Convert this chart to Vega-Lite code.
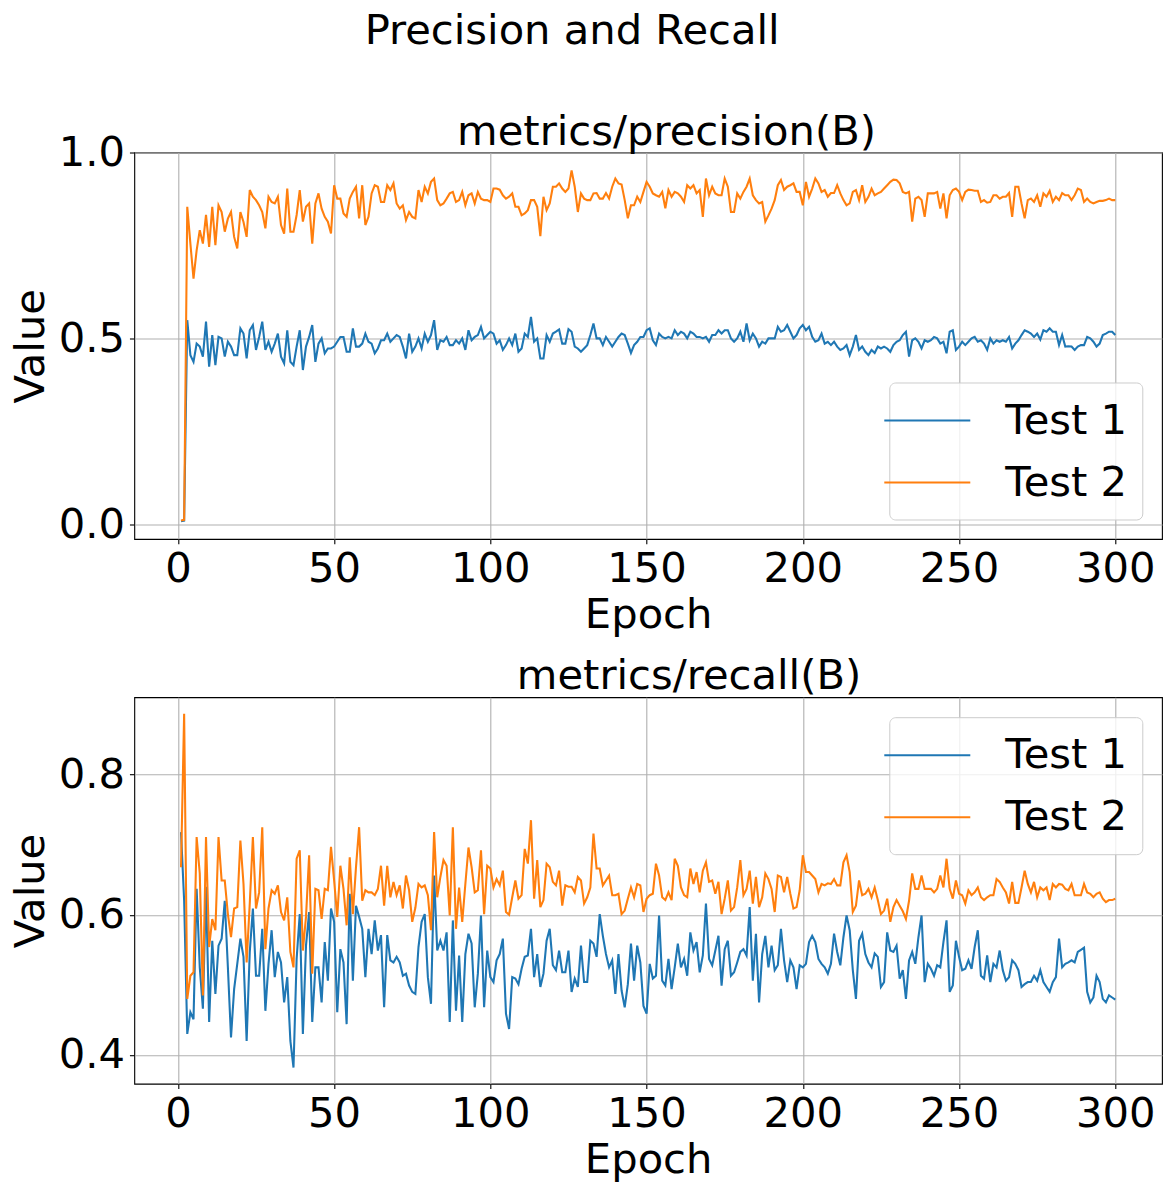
{
"$schema":"https://vega.github.io/schema/vega-lite/v6.json",
"autosize":{"type":"none"},
"padding":{"left":134.3,"top":152.5,"right":1034.7,"bottom":1029.5},
"background":"white",
"bounds":"flush",
"spacing":157.7,
"title":{"text":"Precision and Recall","offset":58,"dx":-76,"frame":"group","anchor":"middle"},
"data":{"values":[
{"e":1,"p1":0.008,"p2":0.010,"r1":0.718,"r2":0.668},
{"e":2,"p1":0.010,"p2":0.012,"r1":0.620,"r2":0.887},
{"e":3,"p1":0.549,"p2":0.854,"r1":0.430,"r2":0.480},
{"e":4,"p1":0.455,"p2":0.755,"r1":0.461,"r2":0.513},
{"e":5,"p1":0.437,"p2":0.661,"r1":0.451,"r2":0.518},
{"e":6,"p1":0.486,"p2":0.737,"r1":0.637,"r2":0.711},
{"e":7,"p1":0.478,"p2":0.791,"r1":0.525,"r2":0.659},
{"e":8,"p1":0.451,"p2":0.755,"r1":0.466,"r2":0.485},
{"e":9,"p1":0.545,"p2":0.832,"r1":0.640,"r2":0.711},
{"e":10,"p1":0.424,"p2":0.746,"r1":0.447,"r2":0.554},
{"e":11,"p1":0.509,"p2":0.854,"r1":0.563,"r2":0.594},
{"e":12,"p1":0.428,"p2":0.751,"r1":0.487,"r2":0.578},
{"e":13,"p1":0.504,"p2":0.858,"r1":0.556,"r2":0.711},
{"e":14,"p1":0.500,"p2":0.840,"r1":0.566,"r2":0.649},
{"e":15,"p1":0.451,"p2":0.787,"r1":0.620,"r2":0.649},
{"e":16,"p1":0.491,"p2":0.822,"r1":0.525,"r2":0.601},
{"e":17,"p1":0.478,"p2":0.840,"r1":0.425,"r2":0.568},
{"e":18,"p1":0.455,"p2":0.773,"r1":0.494,"r2":0.609},
{"e":19,"p1":0.455,"p2":0.742,"r1":0.530,"r2":0.611},
{"e":20,"p1":0.527,"p2":0.840,"r1":0.566,"r2":0.706},
{"e":21,"p1":0.513,"p2":0.813,"r1":0.540,"r2":0.644},
{"e":22,"p1":0.446,"p2":0.773,"r1":0.420,"r2":0.532},
{"e":23,"p1":0.522,"p2":0.899,"r1":0.547,"r2":0.616},
{"e":24,"p1":0.536,"p2":0.881,"r1":0.609,"r2":0.711},
{"e":25,"p1":0.469,"p2":0.872,"r1":0.513,"r2":0.609},
{"e":26,"p1":0.504,"p2":0.858,"r1":0.513,"r2":0.632},
{"e":27,"p1":0.545,"p2":0.840,"r1":0.580,"r2":0.725},
{"e":28,"p1":0.469,"p2":0.796,"r1":0.463,"r2":0.551},
{"e":29,"p1":0.491,"p2":0.881,"r1":0.530,"r2":0.609},
{"e":30,"p1":0.464,"p2":0.867,"r1":0.578,"r2":0.635},
{"e":31,"p1":0.486,"p2":0.863,"r1":0.511,"r2":0.630},
{"e":32,"p1":0.513,"p2":0.881,"r1":0.547,"r2":0.642},
{"e":33,"p1":0.451,"p2":0.805,"r1":0.532,"r2":0.604},
{"e":34,"p1":0.433,"p2":0.782,"r1":0.475,"r2":0.592},
{"e":35,"p1":0.522,"p2":0.903,"r1":0.511,"r2":0.625},
{"e":36,"p1":0.437,"p2":0.787,"r1":0.420,"r2":0.547},
{"e":37,"p1":0.428,"p2":0.787,"r1":0.382,"r2":0.525},
{"e":38,"p1":0.478,"p2":0.832,"r1":0.537,"r2":0.680},
{"e":39,"p1":0.522,"p2":0.899,"r1":0.601,"r2":0.692},
{"e":40,"p1":0.415,"p2":0.814,"r1":0.430,"r2":0.549},
{"e":41,"p1":0.478,"p2":0.854,"r1":0.556,"r2":0.597},
{"e":42,"p1":0.504,"p2":0.863,"r1":0.604,"r2":0.685},
{"e":43,"p1":0.536,"p2":0.755,"r1":0.447,"r2":0.516},
{"e":44,"p1":0.437,"p2":0.863,"r1":0.525,"r2":0.637},
{"e":45,"p1":0.486,"p2":0.890,"r1":0.525,"r2":0.635},
{"e":46,"p1":0.500,"p2":0.849,"r1":0.475,"r2":0.594},
{"e":47,"p1":0.460,"p2":0.827,"r1":0.561,"r2":0.637},
{"e":48,"p1":0.473,"p2":0.814,"r1":0.506,"r2":0.635},
{"e":49,"p1":0.473,"p2":0.782,"r1":0.609,"r2":0.697},
{"e":50,"p1":0.478,"p2":0.912,"r1":0.590,"r2":0.649},
{"e":51,"p1":0.491,"p2":0.876,"r1":0.461,"r2":0.597},
{"e":52,"p1":0.504,"p2":0.876,"r1":0.551,"r2":0.670},
{"e":53,"p1":0.504,"p2":0.836,"r1":0.532,"r2":0.637},
{"e":54,"p1":0.464,"p2":0.827,"r1":0.444,"r2":0.585},
{"e":55,"p1":0.464,"p2":0.876,"r1":0.630,"r2":0.682},
{"e":56,"p1":0.527,"p2":0.894,"r1":0.506,"r2":0.601},
{"e":57,"p1":0.478,"p2":0.908,"r1":0.613,"r2":0.668},
{"e":58,"p1":0.478,"p2":0.823,"r1":0.597,"r2":0.725},
{"e":59,"p1":0.486,"p2":0.912,"r1":0.580,"r2":0.620},
{"e":60,"p1":0.513,"p2":0.805,"r1":0.511,"r2":0.635},
{"e":61,"p1":0.491,"p2":0.827,"r1":0.580,"r2":0.632},
{"e":62,"p1":0.486,"p2":0.890,"r1":0.544,"r2":0.632},
{"e":63,"p1":0.460,"p2":0.912,"r1":0.592,"r2":0.628},
{"e":64,"p1":0.473,"p2":0.908,"r1":0.549,"r2":0.637},
{"e":65,"p1":0.495,"p2":0.867,"r1":0.571,"r2":0.670},
{"e":66,"p1":0.495,"p2":0.867,"r1":0.468,"r2":0.613},
{"e":67,"p1":0.513,"p2":0.912,"r1":0.571,"r2":0.670},
{"e":68,"p1":0.491,"p2":0.899,"r1":0.535,"r2":0.625},
{"e":69,"p1":0.500,"p2":0.917,"r1":0.532,"r2":0.647},
{"e":70,"p1":0.509,"p2":0.863,"r1":0.540,"r2":0.628},
{"e":71,"p1":0.504,"p2":0.849,"r1":0.532,"r2":0.642},
{"e":72,"p1":0.478,"p2":0.858,"r1":0.513,"r2":0.609},
{"e":73,"p1":0.446,"p2":0.818,"r1":0.516,"r2":0.656},
{"e":74,"p1":0.513,"p2":0.840,"r1":0.499,"r2":0.635},
{"e":75,"p1":0.464,"p2":0.827,"r1":0.490,"r2":0.590},
{"e":76,"p1":0.478,"p2":0.823,"r1":0.487,"r2":0.610},
{"e":77,"p1":0.500,"p2":0.899,"r1":0.554,"r2":0.644},
{"e":78,"p1":0.473,"p2":0.867,"r1":0.590,"r2":0.639},
{"e":79,"p1":0.513,"p2":0.908,"r1":0.601,"r2":0.642},
{"e":80,"p1":0.491,"p2":0.890,"r1":0.511,"r2":0.628},
{"e":81,"p1":0.509,"p2":0.921,"r1":0.473,"r2":0.578},
{"e":82,"p1":0.549,"p2":0.930,"r1":0.656,"r2":0.718},
{"e":83,"p1":0.469,"p2":0.872,"r1":0.549,"r2":0.625},
{"e":84,"p1":0.495,"p2":0.858,"r1":0.563,"r2":0.654},
{"e":85,"p1":0.491,"p2":0.863,"r1":0.549,"r2":0.678},
{"e":86,"p1":0.504,"p2":0.876,"r1":0.575,"r2":0.670},
{"e":87,"p1":0.482,"p2":0.890,"r1":0.447,"r2":0.599},
{"e":88,"p1":0.482,"p2":0.894,"r1":0.592,"r2":0.725},
{"e":89,"p1":0.495,"p2":0.867,"r1":0.463,"r2":0.580},
{"e":90,"p1":0.486,"p2":0.872,"r1":0.542,"r2":0.639},
{"e":91,"p1":0.500,"p2":0.894,"r1":0.447,"r2":0.590},
{"e":92,"p1":0.469,"p2":0.858,"r1":0.544,"r2":0.644},
{"e":93,"p1":0.522,"p2":0.885,"r1":0.573,"r2":0.696},
{"e":94,"p1":0.495,"p2":0.890,"r1":0.559,"r2":0.668},
{"e":95,"p1":0.504,"p2":0.863,"r1":0.468,"r2":0.632},
{"e":96,"p1":0.509,"p2":0.894,"r1":0.516,"r2":0.635},
{"e":97,"p1":0.531,"p2":0.876,"r1":0.599,"r2":0.692},
{"e":98,"p1":0.500,"p2":0.872,"r1":0.468,"r2":0.601},
{"e":99,"p1":0.509,"p2":0.872,"r1":0.549,"r2":0.670},
{"e":100,"p1":0.518,"p2":0.867,"r1":0.511,"r2":0.666},
{"e":101,"p1":0.513,"p2":0.903,"r1":0.504,"r2":0.639},
{"e":102,"p1":0.486,"p2":0.903,"r1":0.535,"r2":0.651},
{"e":103,"p1":0.495,"p2":0.900,"r1":0.544,"r2":0.642},
{"e":104,"p1":0.469,"p2":0.885,"r1":0.566,"r2":0.663},
{"e":105,"p1":0.482,"p2":0.876,"r1":0.459,"r2":0.604},
{"e":106,"p1":0.500,"p2":0.881,"r1":0.437,"r2":0.600},
{"e":107,"p1":0.482,"p2":0.890,"r1":0.511,"r2":0.625},
{"e":108,"p1":0.513,"p2":0.854,"r1":0.509,"r2":0.649},
{"e":109,"p1":0.464,"p2":0.854,"r1":0.501,"r2":0.623},
{"e":110,"p1":0.473,"p2":0.831,"r1":0.523,"r2":0.628},
{"e":111,"p1":0.513,"p2":0.836,"r1":0.540,"r2":0.694},
{"e":112,"p1":0.504,"p2":0.845,"r1":0.542,"r2":0.673},
{"e":113,"p1":0.558,"p2":0.872,"r1":0.580,"r2":0.735},
{"e":114,"p1":0.491,"p2":0.872,"r1":0.511,"r2":0.623},
{"e":115,"p1":0.500,"p2":0.854,"r1":0.544,"r2":0.678},
{"e":116,"p1":0.446,"p2":0.775,"r1":0.497,"r2":0.611},
{"e":117,"p1":0.446,"p2":0.881,"r1":0.516,"r2":0.621},
{"e":118,"p1":0.509,"p2":0.845,"r1":0.563,"r2":0.673},
{"e":119,"p1":0.491,"p2":0.863,"r1":0.580,"r2":0.668},
{"e":120,"p1":0.513,"p2":0.908,"r1":0.528,"r2":0.647},
{"e":121,"p1":0.518,"p2":0.908,"r1":0.521,"r2":0.642},
{"e":122,"p1":0.524,"p2":0.917,"r1":0.549,"r2":0.663},
{"e":123,"p1":0.486,"p2":0.903,"r1":0.518,"r2":0.613},
{"e":124,"p1":0.486,"p2":0.894,"r1":0.518,"r2":0.642},
{"e":125,"p1":0.525,"p2":0.903,"r1":0.549,"r2":0.640},
{"e":126,"p1":0.518,"p2":0.952,"r1":0.490,"r2":0.640},
{"e":127,"p1":0.478,"p2":0.908,"r1":0.509,"r2":0.632},
{"e":128,"p1":0.473,"p2":0.840,"r1":0.497,"r2":0.654},
{"e":129,"p1":0.464,"p2":0.890,"r1":0.556,"r2":0.649},
{"e":130,"p1":0.473,"p2":0.876,"r1":0.504,"r2":0.616},
{"e":131,"p1":0.482,"p2":0.872,"r1":0.504,"r2":0.625},
{"e":132,"p1":0.509,"p2":0.872,"r1":0.563,"r2":0.639},
{"e":133,"p1":0.540,"p2":0.890,"r1":0.559,"r2":0.716},
{"e":134,"p1":0.500,"p2":0.891,"r1":0.540,"r2":0.666},
{"e":135,"p1":0.500,"p2":0.876,"r1":0.601,"r2":0.666},
{"e":136,"p1":0.482,"p2":0.876,"r1":0.570,"r2":0.642},
{"e":137,"p1":0.504,"p2":0.891,"r1":0.544,"r2":0.649},
{"e":138,"p1":0.491,"p2":0.876,"r1":0.525,"r2":0.656},
{"e":139,"p1":0.478,"p2":0.908,"r1":0.535,"r2":0.628},
{"e":140,"p1":0.491,"p2":0.930,"r1":0.487,"r2":0.628},
{"e":141,"p1":0.504,"p2":0.917,"r1":0.544,"r2":0.630},
{"e":142,"p1":0.513,"p2":0.914,"r1":0.492,"r2":0.601},
{"e":143,"p1":0.509,"p2":0.872,"r1":0.468,"r2":0.606},
{"e":144,"p1":0.486,"p2":0.823,"r1":0.501,"r2":0.623},
{"e":145,"p1":0.461,"p2":0.858,"r1":0.559,"r2":0.639},
{"e":146,"p1":0.482,"p2":0.858,"r1":0.506,"r2":0.625},
{"e":147,"p1":0.491,"p2":0.881,"r1":0.556,"r2":0.644},
{"e":148,"p1":0.504,"p2":0.867,"r1":0.532,"r2":0.642},
{"e":149,"p1":0.504,"p2":0.894,"r1":0.470,"r2":0.604},
{"e":150,"p1":0.522,"p2":0.921,"r1":0.459,"r2":0.623},
{"e":151,"p1":0.527,"p2":0.908,"r1":0.530,"r2":0.628},
{"e":152,"p1":0.495,"p2":0.890,"r1":0.509,"r2":0.630},
{"e":153,"p1":0.482,"p2":0.885,"r1":0.513,"r2":0.673},
{"e":154,"p1":0.513,"p2":0.881,"r1":0.599,"r2":0.656},
{"e":155,"p1":0.504,"p2":0.894,"r1":0.506,"r2":0.625},
{"e":156,"p1":0.500,"p2":0.850,"r1":0.499,"r2":0.621},
{"e":157,"p1":0.504,"p2":0.899,"r1":0.537,"r2":0.632},
{"e":158,"p1":0.500,"p2":0.881,"r1":0.494,"r2":0.621},
{"e":159,"p1":0.522,"p2":0.894,"r1":0.525,"r2":0.680},
{"e":160,"p1":0.509,"p2":0.890,"r1":0.559,"r2":0.670},
{"e":161,"p1":0.518,"p2":0.881,"r1":0.525,"r2":0.639},
{"e":162,"p1":0.513,"p2":0.867,"r1":0.537,"r2":0.628},
{"e":163,"p1":0.500,"p2":0.912,"r1":0.513,"r2":0.625},
{"e":164,"p1":0.518,"p2":0.903,"r1":0.575,"r2":0.666},
{"e":165,"p1":0.513,"p2":0.912,"r1":0.549,"r2":0.644},
{"e":166,"p1":0.504,"p2":0.890,"r1":0.561,"r2":0.661},
{"e":167,"p1":0.504,"p2":0.899,"r1":0.518,"r2":0.632},
{"e":168,"p1":0.500,"p2":0.827,"r1":0.542,"r2":0.663},
{"e":169,"p1":0.504,"p2":0.930,"r1":0.616,"r2":0.675},
{"e":170,"p1":0.491,"p2":0.885,"r1":0.537,"r2":0.647},
{"e":171,"p1":0.509,"p2":0.908,"r1":0.528,"r2":0.649},
{"e":172,"p1":0.509,"p2":0.890,"r1":0.549,"r2":0.630},
{"e":173,"p1":0.522,"p2":0.885,"r1":0.570,"r2":0.647},
{"e":174,"p1":0.513,"p2":0.885,"r1":0.499,"r2":0.601},
{"e":175,"p1":0.522,"p2":0.930,"r1":0.551,"r2":0.623},
{"e":176,"p1":0.522,"p2":0.908,"r1":0.563,"r2":0.649},
{"e":177,"p1":0.500,"p2":0.840,"r1":0.513,"r2":0.606},
{"e":178,"p1":0.491,"p2":0.840,"r1":0.518,"r2":0.611},
{"e":179,"p1":0.500,"p2":0.890,"r1":0.532,"r2":0.639},
{"e":180,"p1":0.518,"p2":0.876,"r1":0.547,"r2":0.678},
{"e":181,"p1":0.491,"p2":0.894,"r1":0.551,"r2":0.628},
{"e":182,"p1":0.540,"p2":0.908,"r1":0.542,"r2":0.637},
{"e":183,"p1":0.495,"p2":0.930,"r1":0.611,"r2":0.663},
{"e":184,"p1":0.513,"p2":0.885,"r1":0.506,"r2":0.616},
{"e":185,"p1":0.500,"p2":0.872,"r1":0.573,"r2":0.654},
{"e":186,"p1":0.478,"p2":0.863,"r1":0.475,"r2":0.611},
{"e":187,"p1":0.491,"p2":0.867,"r1":0.544,"r2":0.625},
{"e":188,"p1":0.486,"p2":0.814,"r1":0.570,"r2":0.659},
{"e":189,"p1":0.500,"p2":0.831,"r1":0.525,"r2":0.651},
{"e":190,"p1":0.500,"p2":0.849,"r1":0.556,"r2":0.637},
{"e":191,"p1":0.500,"p2":0.872,"r1":0.521,"r2":0.604},
{"e":192,"p1":0.531,"p2":0.912,"r1":0.528,"r2":0.656},
{"e":193,"p1":0.518,"p2":0.926,"r1":0.580,"r2":0.654},
{"e":194,"p1":0.522,"p2":0.899,"r1":0.535,"r2":0.632},
{"e":195,"p1":0.536,"p2":0.908,"r1":0.504,"r2":0.654},
{"e":196,"p1":0.518,"p2":0.912,"r1":0.535,"r2":0.630},
{"e":197,"p1":0.500,"p2":0.917,"r1":0.525,"r2":0.609},
{"e":198,"p1":0.509,"p2":0.894,"r1":0.494,"r2":0.611},
{"e":199,"p1":0.527,"p2":0.894,"r1":0.528,"r2":0.635},
{"e":200,"p1":0.536,"p2":0.858,"r1":0.525,"r2":0.685},
{"e":201,"p1":0.522,"p2":0.921,"r1":0.530,"r2":0.661},
{"e":202,"p1":0.531,"p2":0.881,"r1":0.561,"r2":0.661},
{"e":203,"p1":0.504,"p2":0.903,"r1":0.570,"r2":0.656},
{"e":204,"p1":0.491,"p2":0.930,"r1":0.561,"r2":0.651},
{"e":205,"p1":0.495,"p2":0.917,"r1":0.537,"r2":0.632},
{"e":206,"p1":0.513,"p2":0.894,"r1":0.530,"r2":0.644},
{"e":207,"p1":0.486,"p2":0.899,"r1":0.525,"r2":0.642},
{"e":208,"p1":0.491,"p2":0.881,"r1":0.516,"r2":0.645},
{"e":209,"p1":0.482,"p2":0.891,"r1":0.530,"r2":0.644},
{"e":210,"p1":0.491,"p2":0.891,"r1":0.573,"r2":0.651},
{"e":211,"p1":0.478,"p2":0.912,"r1":0.547,"r2":0.642},
{"e":212,"p1":0.469,"p2":0.890,"r1":0.528,"r2":0.642},
{"e":213,"p1":0.473,"p2":0.872,"r1":0.568,"r2":0.675},
{"e":214,"p1":0.482,"p2":0.858,"r1":0.599,"r2":0.685},
{"e":215,"p1":0.455,"p2":0.863,"r1":0.578,"r2":0.661},
{"e":216,"p1":0.478,"p2":0.894,"r1":0.521,"r2":0.604},
{"e":217,"p1":0.509,"p2":0.899,"r1":0.480,"r2":0.613},
{"e":218,"p1":0.469,"p2":0.872,"r1":0.563,"r2":0.649},
{"e":219,"p1":0.478,"p2":0.912,"r1":0.573,"r2":0.628},
{"e":220,"p1":0.464,"p2":0.867,"r1":0.544,"r2":0.630},
{"e":221,"p1":0.455,"p2":0.881,"r1":0.532,"r2":0.637},
{"e":222,"p1":0.469,"p2":0.903,"r1":0.525,"r2":0.625},
{"e":223,"p1":0.461,"p2":0.885,"r1":0.545,"r2":0.639},
{"e":224,"p1":0.478,"p2":0.890,"r1":0.540,"r2":0.621},
{"e":225,"p1":0.473,"p2":0.894,"r1":0.497,"r2":0.601},
{"e":226,"p1":0.478,"p2":0.903,"r1":0.504,"r2":0.606},
{"e":227,"p1":0.473,"p2":0.912,"r1":0.575,"r2":0.623},
{"e":228,"p1":0.464,"p2":0.921,"r1":0.549,"r2":0.590},
{"e":229,"p1":0.482,"p2":0.927,"r1":0.547,"r2":0.611},
{"e":230,"p1":0.491,"p2":0.926,"r1":0.556,"r2":0.621},
{"e":231,"p1":0.495,"p2":0.917,"r1":0.509,"r2":0.613},
{"e":232,"p1":0.509,"p2":0.894,"r1":0.521,"r2":0.605},
{"e":233,"p1":0.518,"p2":0.890,"r1":0.480,"r2":0.594},
{"e":234,"p1":0.451,"p2":0.894,"r1":0.535,"r2":0.620},
{"e":235,"p1":0.495,"p2":0.814,"r1":0.547,"r2":0.659},
{"e":236,"p1":0.500,"p2":0.876,"r1":0.530,"r2":0.637},
{"e":237,"p1":0.491,"p2":0.881,"r1":0.568,"r2":0.637},
{"e":238,"p1":0.473,"p2":0.872,"r1":0.599,"r2":0.656},
{"e":239,"p1":0.495,"p2":0.827,"r1":0.504,"r2":0.637},
{"e":240,"p1":0.491,"p2":0.890,"r1":0.530,"r2":0.637},
{"e":241,"p1":0.495,"p2":0.890,"r1":0.523,"r2":0.637},
{"e":242,"p1":0.504,"p2":0.890,"r1":0.513,"r2":0.632},
{"e":243,"p1":0.500,"p2":0.894,"r1":0.528,"r2":0.637},
{"e":244,"p1":0.486,"p2":0.849,"r1":0.525,"r2":0.656},
{"e":245,"p1":0.491,"p2":0.890,"r1":0.561,"r2":0.639},
{"e":246,"p1":0.460,"p2":0.823,"r1":0.592,"r2":0.680},
{"e":247,"p1":0.518,"p2":0.885,"r1":0.490,"r2":0.637},
{"e":248,"p1":0.522,"p2":0.899,"r1":0.499,"r2":0.623},
{"e":249,"p1":0.469,"p2":0.903,"r1":0.563,"r2":0.649},
{"e":250,"p1":0.478,"p2":0.894,"r1":0.540,"r2":0.630},
{"e":251,"p1":0.491,"p2":0.872,"r1":0.521,"r2":0.628},
{"e":252,"p1":0.482,"p2":0.894,"r1":0.523,"r2":0.616},
{"e":253,"p1":0.491,"p2":0.900,"r1":0.535,"r2":0.635},
{"e":254,"p1":0.500,"p2":0.899,"r1":0.523,"r2":0.628},
{"e":255,"p1":0.504,"p2":0.897,"r1":0.554,"r2":0.632},
{"e":256,"p1":0.491,"p2":0.897,"r1":0.578,"r2":0.639},
{"e":257,"p1":0.495,"p2":0.867,"r1":0.513,"r2":0.625},
{"e":258,"p1":0.486,"p2":0.872,"r1":0.509,"r2":0.621},
{"e":259,"p1":0.469,"p2":0.865,"r1":0.542,"r2":0.625},
{"e":260,"p1":0.500,"p2":0.867,"r1":0.504,"r2":0.628},
{"e":261,"p1":0.486,"p2":0.885,"r1":0.530,"r2":0.628},
{"e":262,"p1":0.495,"p2":0.885,"r1":0.525,"r2":0.651},
{"e":263,"p1":0.491,"p2":0.876,"r1":0.549,"r2":0.647},
{"e":264,"p1":0.495,"p2":0.881,"r1":0.521,"r2":0.639},
{"e":265,"p1":0.491,"p2":0.881,"r1":0.506,"r2":0.632},
{"e":266,"p1":0.504,"p2":0.891,"r1":0.511,"r2":0.616},
{"e":267,"p1":0.473,"p2":0.827,"r1":0.535,"r2":0.647},
{"e":268,"p1":0.486,"p2":0.908,"r1":0.530,"r2":0.617},
{"e":269,"p1":0.495,"p2":0.908,"r1":0.521,"r2":0.617},
{"e":270,"p1":0.509,"p2":0.863,"r1":0.497,"r2":0.639},
{"e":271,"p1":0.522,"p2":0.823,"r1":0.501,"r2":0.663},
{"e":272,"p1":0.518,"p2":0.872,"r1":0.504,"r2":0.644},
{"e":273,"p1":0.513,"p2":0.876,"r1":0.504,"r2":0.632},
{"e":274,"p1":0.504,"p2":0.867,"r1":0.513,"r2":0.647},
{"e":275,"p1":0.513,"p2":0.885,"r1":0.506,"r2":0.625},
{"e":276,"p1":0.497,"p2":0.854,"r1":0.521,"r2":0.639},
{"e":277,"p1":0.522,"p2":0.890,"r1":0.504,"r2":0.635},
{"e":278,"p1":0.518,"p2":0.881,"r1":0.497,"r2":0.639},
{"e":279,"p1":0.527,"p2":0.897,"r1":0.490,"r2":0.621},
{"e":280,"p1":0.518,"p2":0.867,"r1":0.504,"r2":0.644},
{"e":281,"p1":0.518,"p2":0.881,"r1":0.511,"r2":0.639},
{"e":282,"p1":0.482,"p2":0.872,"r1":0.566,"r2":0.644},
{"e":283,"p1":0.509,"p2":0.891,"r1":0.525,"r2":0.643},
{"e":284,"p1":0.478,"p2":0.885,"r1":0.530,"r2":0.637},
{"e":285,"p1":0.479,"p2":0.885,"r1":0.532,"r2":0.635},
{"e":286,"p1":0.478,"p2":0.872,"r1":0.535,"r2":0.644},
{"e":287,"p1":0.469,"p2":0.885,"r1":0.532,"r2":0.628},
{"e":288,"p1":0.478,"p2":0.903,"r1":0.547,"r2":0.628},
{"e":289,"p1":0.482,"p2":0.899,"r1":0.550,"r2":0.628},
{"e":290,"p1":0.482,"p2":0.867,"r1":0.553,"r2":0.644},
{"e":291,"p1":0.504,"p2":0.876,"r1":0.490,"r2":0.632},
{"e":292,"p1":0.500,"p2":0.867,"r1":0.475,"r2":0.630},
{"e":293,"p1":0.491,"p2":0.863,"r1":0.482,"r2":0.625},
{"e":294,"p1":0.478,"p2":0.867,"r1":0.513,"r2":0.630},
{"e":295,"p1":0.486,"p2":0.870,"r1":0.504,"r2":0.632},
{"e":296,"p1":0.509,"p2":0.870,"r1":0.480,"r2":0.623},
{"e":297,"p1":0.513,"p2":0.872,"r1":0.475,"r2":0.618},
{"e":298,"p1":0.518,"p2":0.876,"r1":0.485,"r2":0.621},
{"e":299,"p1":0.518,"p2":0.872,"r1":0.482,"r2":0.621},
{"e":300,"p1":0.509,"p2":0.872,"r1":0.479,"r2":0.623}
]},
"vconcat":[
{
"width":1027.7,"height":386.5,
"title":{"text":"metrics/precision(B)","dx":18.4,"offset":-20.7},
"transform":[{"fold":["p1","p2"],"as":["series","value"]}],
"mark":{"type":"line","strokeWidth":2.08,"clip":true},
"encoding":{
"x":{"field":"e","type":"quantitative","scale":{"domain":[-13.95,314.95],"nice":false,"zero":false},"axis":{"values":[0,50,100,150,200,250,300],"title":"Epoch"}},
"y":{"field":"value","type":"quantitative","scale":{"domain":[-0.0395,1.0],"nice":false,"zero":false},"axis":{"values":[0,0.5,1],"format":".1f","title":"Value"}},
"color":{"field":"series","type":"nominal","scale":{"domain":["p1","p2"],"range":["#1f77b4","#ff7f0e"]},"legend":{"title":null,"orient":"bottom-right","labelExpr":"datum.label == 'p1' ? 'Test 1' : 'Test 2'"}}
}
},
{
"width":1027.7,"height":386.5,
"title":{"text":"metrics/recall(B)","dx":40.9,"offset":0},
"transform":[{"fold":["r1","r2"],"as":["series","value"]}],
"mark":{"type":"line","strokeWidth":2.08,"clip":true},
"encoding":{
"x":{"field":"e","type":"quantitative","scale":{"domain":[-13.95,314.95],"nice":false,"zero":false},"axis":{"values":[0,50,100,150,200,250,300],"title":"Epoch"}},
"y":{"field":"value","type":"quantitative","scale":{"domain":[0.359,0.9105],"nice":false,"zero":false},"axis":{"values":[0.4,0.6,0.8],"format":".1f","title":"Value"}},
"color":{"field":"series","type":"nominal","scale":{"domain":["r1","r2"],"range":["#1f77b4","#ff7f0e"]},"legend":{"title":null,"orient":"top-right","labelExpr":"datum.label == 'r1' ? 'Test 1' : 'Test 2'"}}
}
}
],
"resolve":{"scale":{"color":"independent","x":"independent","y":"independent"},"legend":{"color":"independent"}},
"config":{
"font":"DejaVu Sans",
"view":{"stroke":"black","strokeWidth":1.11},
"axis":{"domain":false,"grid":true,"gridColor":"#b0b0b0","gridWidth":1.11,"tickColor":"black","tickWidth":1.11,"tickSize":4.86,"labelPadding":4.86,"labelFontSize":41.67,"labelColor":"black","labelFont":"DejaVu Sans","titleFontSize":41.67,"titleFontWeight":"normal","titleColor":"black","titleFont":"DejaVu Sans","labelFlush":false,"labelOverlap":false},
"axisX":{"titlePadding":4},
"axisY":{"titlePadding":5.6},
"title":{"fontSize":41.67,"fontWeight":"normal","color":"black","font":"DejaVu Sans","baseline":"alphabetic","offset":6,"anchor":"middle","frame":"group"},
"legend":{"offset":20,"symbolType":"M-2,0H2","symbolSize":1849,"symbolStrokeWidth":2.08,"labelFontSize":41.67,"labelFont":"DejaVu Sans","labelColor":"black","labelOffset":55,"padding":15,"cornerRadius":6,"strokeColor":"#cccccc","fillColor":"rgba(255,255,255,0.8)","rowPadding":17}
}
}
